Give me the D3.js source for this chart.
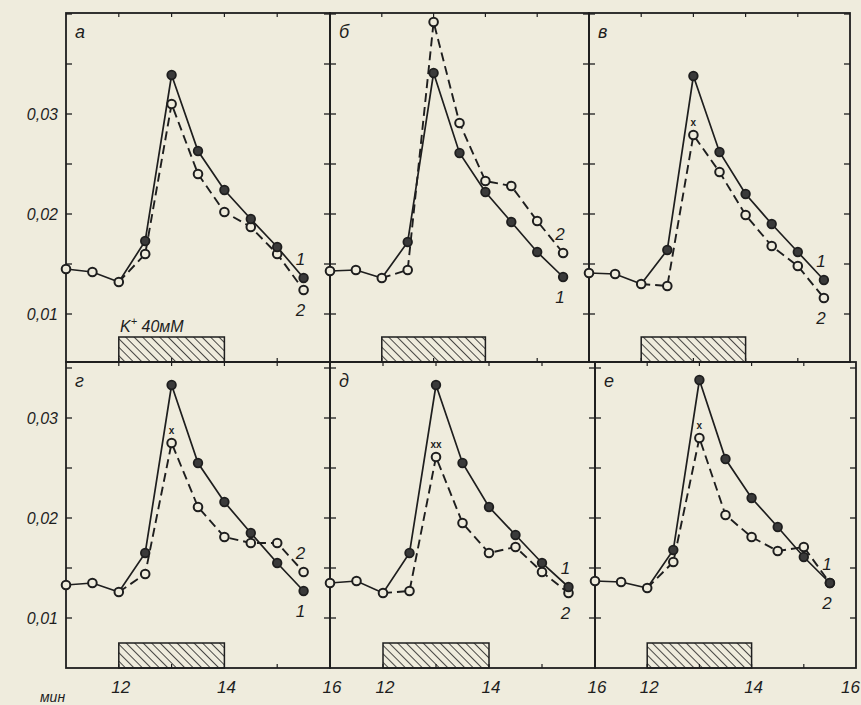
<!DOCTYPE html>
<html>
<head>
<meta charset="utf-8">
<script src="https://cdn.jsdelivr.net/npm/d3@7"></script>
<style>
  body { margin: 0; background: #efecdd; }
  svg { display: block; }
  text { font-family: "Liberation Sans", "DejaVu Sans", sans-serif; font-style: italic; fill: #1e1e1e; }
</style>
</head>
<body>
<div id="chart"></div>
<script>
// time points, min
var minutes = [11, 11.5, 12, 12.5, 13, 13.5, 14, 14.5, 15, 15.5];
// curve 2 starts after 12 min (shared baseline before that)
var minutes2 = [12.5, 13, 13.5, 14, 14.5, 15, 15.5];

var letters = ["а", "б", "в", "г", "д", "е"];

// curve 1 (solid, filled dots)
var s1_a = [0.0145, 0.0142, 0.0132, 0.0173, 0.0339, 0.0263, 0.0224, 0.0195, 0.0167, 0.0136];
var s1_b = [0.0143, 0.0144, 0.0136, 0.0172, 0.0341, 0.0261, 0.0222, 0.0192, 0.0162, 0.0137];
var s1_v = [0.0141, 0.0140, 0.0130, 0.0164, 0.0338, 0.0262, 0.0220, 0.0190, 0.0162, 0.0134];
var s1_g = [0.0133, 0.0135, 0.0126, 0.0165, 0.0333, 0.0255, 0.0216, 0.0185, 0.0155, 0.0127];
var s1_d = [0.0135, 0.0137, 0.0125, 0.0165, 0.0333, 0.0255, 0.0211, 0.0183, 0.0155, 0.0131];
var s1_e = [0.0137, 0.0136, 0.0130, 0.0168, 0.0338, 0.0259, 0.0220, 0.0191, 0.0161, 0.0135];

// curve 2 (dashed, open circles)
var s2_a = [0.0160, 0.0310, 0.0240, 0.0202, 0.0187, 0.0160, 0.0124];
var s2_b = [0.0144, 0.0392, 0.0291, 0.0233, 0.0228, 0.0193, 0.0161];
var s2_v = [0.0128, 0.0279, 0.0242, 0.0199, 0.0168, 0.0148, 0.0116];
var s2_g = [0.0144, 0.0275, 0.0211, 0.0181, 0.0175, 0.0175, 0.0146];
var s2_d = [0.0127, 0.0261, 0.0195, 0.0165, 0.0171, 0.0146, 0.0125];
var s2_e = [0.0156, 0.0280, 0.0203, 0.0181, 0.0167, 0.0171, 0.0135];

// significance marks above curve 2 peak
var marks = ["", "", "x", "x", "xx", "x"];

var yTickValues = [0.01, 0.02, 0.03];
var yTickLabels = ["0,01", "0,02", "0,03"];
var xTickValues = [12, 14, 16];
var stimulus = [12, 14];

var width = 861, height = 705;
var ink = "#1e1e1e", paper = "#efecdd";

var svg = d3.select("#chart").append("svg")
    .attr("width", width)
    .attr("height", height);

svg.append("rect").attr("width", width).attr("height", height).attr("fill", paper);

var defs = svg.append("defs");
var pat = defs.append("pattern")
    .attr("id", "hatch")
    .attr("patternUnits", "userSpaceOnUse")
    .attr("width", 6).attr("height", 6)
    .attr("patternTransform", "rotate(-45)");
pat.append("rect").attr("width", 6).attr("height", 6).attr("fill", paper);
pat.append("line")
    .attr("x1", 0).attr("y1", 0).attr("x2", 0).attr("y2", 6)
    .attr("stroke", ink).attr("stroke-width", 1.6);

// rows and columns of the panel grid
var rows = [
    { top: 13, bottom: 362, y: d3.scaleLinear().domain([0.0052, 0.0401]).range([362, 13]) },
    { top: 362, bottom: 668, y: d3.scaleLinear().domain([0.005, 0.0356]).range([668, 362]) }
];
var cols = [
    [[66, 330], [330, 589], [589, 850]],
    [[66, 330], [330, 595], [595, 856]]
];

var panels = [
    { s1: s1_a, s2: s2_a }, { s1: s1_b, s2: s2_b }, { s1: s1_v, s2: s2_v },
    { s1: s1_g, s2: s2_g }, { s1: s1_d, s2: s2_d }, { s1: s1_e, s2: s2_e }
];

panels.forEach(function(p, i) {
    var r = Math.floor(i / 3), c = i % 3;
    var row = rows[r];
    var left = cols[r][c][0], right = cols[r][c][1];
    var x = d3.scaleLinear().domain([11, 16]).range([left, right]);
    var y = row.y;
    var g = svg.append("g");

    // stimulus bar
    g.append("rect")
        .attr("x", x(stimulus[0]))
        .attr("y", row.bottom - 25)
        .attr("width", x(stimulus[1]) - x(stimulus[0]))
        .attr("height", 25)
        .attr("fill", "url(#hatch)")
        .attr("stroke", ink).attr("stroke-width", 1.5);

    // frame
    g.append("rect")
        .attr("x", left).attr("y", row.top)
        .attr("width", right - left).attr("height", row.bottom - row.top)
        .attr("fill", "none").attr("stroke", ink).attr("stroke-width", 1.8);

    // y ticks, both sides, every 0.005
    var yt = d3.range(0.01, y.domain()[1], 0.005);
    yt.forEach(function(v) {
        g.append("line").attr("x1", left).attr("x2", left + 6)
            .attr("y1", y(v)).attr("y2", y(v)).attr("stroke", ink).attr("stroke-width", 1.3);
        g.append("line").attr("x1", right - 6).attr("x2", right)
            .attr("y1", y(v)).attr("y2", y(v)).attr("stroke", ink).attr("stroke-width", 1.3);
    });
    // x ticks
    [12, 13, 14, 15].forEach(function(t) {
        g.append("line").attr("x1", x(t)).attr("x2", x(t))
            .attr("y1", row.bottom).attr("y2", row.bottom - 4).attr("stroke", ink).attr("stroke-width", 1.2);
        g.append("line").attr("x1", x(t)).attr("x2", x(t))
            .attr("y1", row.top).attr("y2", row.top + 4).attr("stroke", ink).attr("stroke-width", 1.2);
    });

    if (c == 0) {
        yTickValues.forEach(function(v, k) {
            svg.append("text")
                .attr("x", left - 8).attr("y", y(v) + 6)
                .attr("text-anchor", "end")
                .style("font-size", "16px")
                .text(yTickLabels[k]);
        });
    }
    if (r == 1) {
        xTickValues.forEach(function(t) {
            var last = (c == 2 && t == 16);
            svg.append("text")
                .attr("x", last ? width - 1 : x(t) + 2).attr("y", 693)
                .attr("text-anchor", last ? "end" : "middle")
                .style("font-size", "17px")
                .text(t);
        });
    }

    // panel letter
    g.append("text")
        .attr("x", left + 9).attr("y", row.top + 25)
        .style("font-size", "18px")
        .text(letters[i]);

    var line = d3.line().x(function(d) { return x(d[0]); }).y(function(d) { return y(d[1]); });

    var pts1 = minutes.map(function(m, k) { return [m, p.s1[k]]; });
    var pts2 = [[12, p.s1[2]]].concat(minutes2.map(function(m, k) { return [m, p.s2[k]]; }));

    g.append("path").datum(pts2).attr("d", line)
        .attr("fill", "none").attr("stroke", ink).attr("stroke-width", 1.9)
        .attr("stroke-dasharray", "9,5");
    g.append("path").datum(pts1).attr("d", line)
        .attr("fill", "none").attr("stroke", ink).attr("stroke-width", 1.7);

    // markers: baseline and curve 2 open, curve 1 filled
    g.selectAll(".o2").data(pts2.slice(1)).enter().append("circle")
        .attr("cx", function(d) { return x(d[0]); })
        .attr("cy", function(d) { return y(d[1]); })
        .attr("r", 4.3)
        .attr("fill", paper).attr("stroke", ink).attr("stroke-width", 2);
    g.selectAll(".o0").data(pts1.slice(0, 3)).enter().append("circle")
        .attr("cx", function(d) { return x(d[0]); })
        .attr("cy", function(d) { return y(d[1]); })
        .attr("r", 4.3)
        .attr("fill", paper).attr("stroke", ink).attr("stroke-width", 2);
    g.selectAll(".o1").data(pts1.slice(3)).enter().append("circle")
        .attr("cx", function(d) { return x(d[0]); })
        .attr("cy", function(d) { return y(d[1]); })
        .attr("r", 4.3)
        .attr("fill", "#3a3a3a").attr("stroke", ink).attr("stroke-width", 1.8);

    if (marks[i] != "") {
        g.append("text")
            .attr("x", x(13)).attr("y", y(p.s2[1]) - 9)
            .attr("text-anchor", "middle")
            .style("font-size", "10px").style("font-style", "normal").style("font-weight", "bold")
            .text(marks[i]);
    }

    // curve numbers at the end
    var e1 = p.s1[p.s1.length - 1], e2 = p.s2[p.s2.length - 1];
    var ex = x(15.5) - 3;
    var up = e1 >= e2 ? "1" : "2", dn = e1 >= e2 ? "2" : "1";
    g.append("text").attr("x", ex).attr("y", y(Math.max(e1, e2)) - 13)
        .attr("text-anchor", "middle").style("font-size", "17px").text(up);
    g.append("text").attr("x", ex).attr("y", y(Math.min(e1, e2)) + 26)
        .attr("text-anchor", "middle").style("font-size", "17px").text(dn);
});

// stimulus label in panel a
var lab = svg.append("text").attr("x", 120).attr("y", 332).style("font-size", "16px");
lab.append("tspan").text("K");
lab.append("tspan").attr("dy", -7).style("font-size", "11px").text("+");
lab.append("tspan").attr("dy", 7).text(" 40мМ");

svg.append("text").attr("x", 40).attr("y", 702).style("font-size", "14px").text("мин");
</script>
</body>
</html>
